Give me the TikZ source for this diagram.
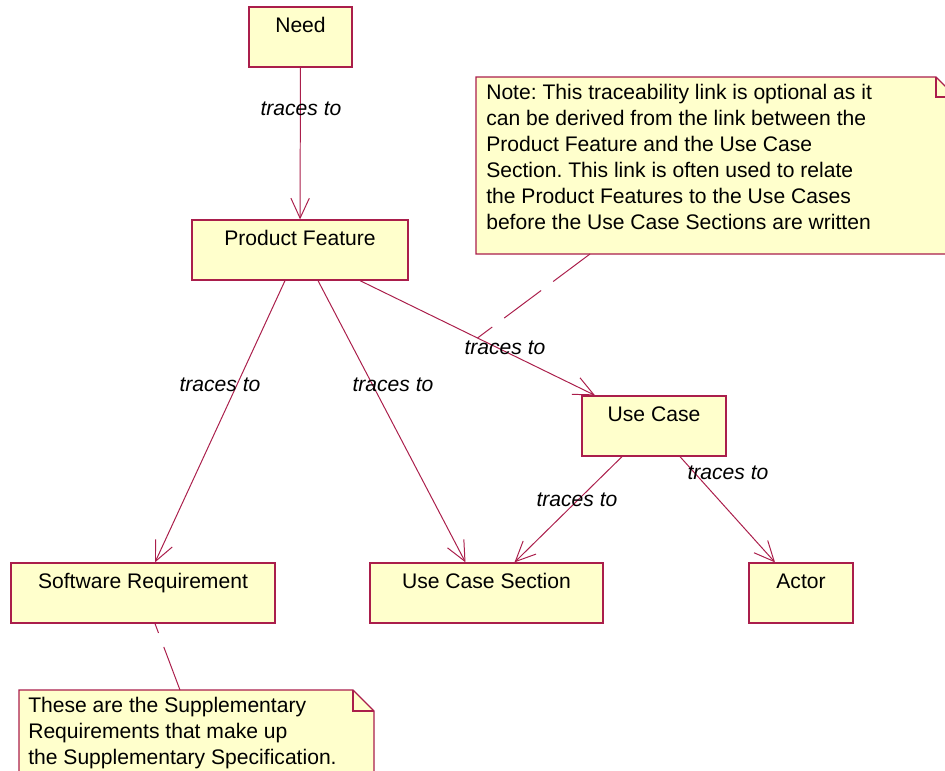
\documentclass[tikz,border=0pt]{standalone}
\usepackage{fontspec}
\setmainfont{Liberation Sans}
\frenchspacing
\usetikzlibrary{arrows.meta,calc}

\definecolor{umlline}{RGB}{170,30,75}
\definecolor{umlfill}{RGB}{255,255,204}

\begin{document}
\begin{tikzpicture}[
    x=0.025cm, y=-0.025cm,
    box/.style={draw=umlline, fill=umlfill, line width=0.9pt, inner sep=0pt, text height=0.625cm, text depth=0.875cm, font=\fontsize{15}{18}\selectfont},
    trace/.style={draw=umlline, line width=0.7pt, -{Straight Barb[length=0.5cm, width=0.46cm]}},
    tracelabel/.style={font=\fontsize{15}{18}\selectfont\itshape, inner sep=0pt},
    notebody/.style={draw=umlline, fill=umlfill, line width=0.9pt, line join=miter},
    notefold/.style={draw=umlline, line width=0.9pt},
    notetext/.style={anchor=north west, align=left, inner sep=0pt, font=\fontsize{15}{18.43}\selectfont},
    anchorline/.style={draw=umlline, line width=0.7pt, dash pattern=on 1.15cm off 0.375cm}
]
\useasboundingbox (0,0) rectangle (945,770);
\clip (0,0) rectangle (945,770);

% Requirement elements
\node[box, minimum width=2.575cm] (need) at (300.5,37) {Need};
\node[box, minimum width=5.4cm] (feature) at (300,250) {Product Feature};
\node[box, minimum width=3.6cm] (usecase) at (654,426) {Use Case};
\node[box, minimum width=6.6cm] (swreq) at (143,593) {Software Requirement};
\node[box, minimum width=5.825cm] (ucsection) at (486.5,593) {Use Case Section};
\node[box, minimum width=2.6cm] (actor) at (801,593) {Actor};

% Trace links
\draw[trace] (need) -- (feature);
\draw[trace] ($(feature.south)+(-15,0)$) -- ($(swreq.north)+(12,0)$);
\draw[trace] ($(feature.south)+(18,0)$) -- ($(ucsection.north)+(-21,0)$);
\draw[trace] ($(feature.south)+(60,0)$) -- coordinate[pos=0.5] (optlink) ($(usecase.north)+(-59,0)$);
\draw[trace] ($(usecase.south)+(-32,0)$) -- ($(ucsection.north)+(28,0)$);
\draw[trace] ($(usecase.south)+(26,0)$) -- ($(actor.north)+(-26,0)$);

% Link labels
\node[tracelabel] (tneed) at (301,109) {traces to};
\node[tracelabel] (tswreq) at (220,385) {traces to};
\node[tracelabel] (tsection) at (393,385) {traces to};
\node[tracelabel] (tusecase) at (505,348) {traces to};
\node[tracelabel] (tucsection) at (577,500) {traces to};
\node[tracelabel] (tactor) at (728,473) {traces to};

% Note on the optional link
\path[notebody] (476,77) -- (936,77) -- (956,97) -- (956,254) -- (476,254) -- cycle;
\draw[notefold] (936,77) -- (936,97) -- (956,97);
\node[notetext] (notetxtA) at (486,84) {Note: This traceability link is optional as it\\can be derived from the link between the\\Product Feature and the Use Case\\Section. This link is often used to relate\\the Product Features to the Use Cases\\before the Use Case Sections are written};
\coordinate (noteA) at (590,254);
\draw[anchorline] (noteA) -- (optlink);

% Note on software requirements
\path[notebody] (19,690) -- (353,690) -- (374,711) -- (374,800) -- (19,800) -- cycle;
\draw[notefold] (353,690) -- (353,711) -- (374,711);
\node[notetext] (notetxtB) at (28,697) {These are the Supplementary\\Requirements that make up\\the Supplementary Specification.};
\coordinate (noteB) at (180,690);
\draw[anchorline] (noteB) -- ($(swreq.south)+(12,0)$);

\end{tikzpicture}
\end{document}
